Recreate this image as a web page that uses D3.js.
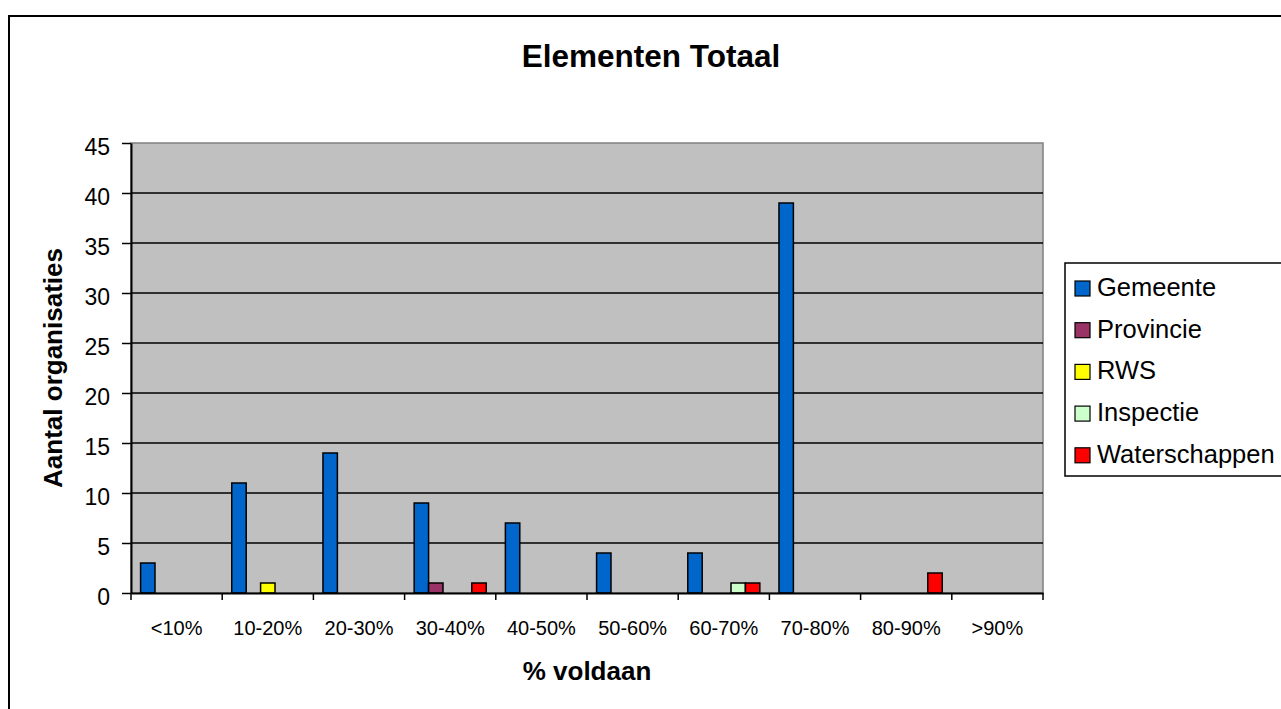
<!DOCTYPE html>
<html><head><meta charset="utf-8">
<script src="https://cdn.jsdelivr.net/npm/d3@7"></script>
<style>
html,body{margin:0;padding:0;background:#fff;}
svg{display:block;font-family:"Liberation Sans",Arial,sans-serif;}
</style></head>
<body>
<script>
const categories = ["<10%","10-20%","20-30%","30-40%","40-50%","50-60%","60-70%","70-80%","80-90%",">90%"];
const seriesNames = ["Gemeente","Provincie","RWS","Inspectie","Waterschappen"];
const seriesColors = ["#0066CC","#993366","#FFFF00","#CCFFCC","#FF0000"];
const gemeente     = [3,11,14,9,7,4,4,39,0,0];
const provincie    = [0,0,0,1,0,0,0,0,0,0];
const rws          = [0,1,0,0,0,0,0,0,0,0];
const inspectie    = [0,0,0,0,0,0,1,0,0,0];
const waterschappen= [0,0,0,1,0,0,1,0,2,0];
const yTicks = [0,5,10,15,20,25,30,35,40,45];
const seriesValues = [gemeente,provincie,rws,inspectie,waterschappen];

const W=1281,H=709;
const svg=d3.select("body").append("svg").attr("width",W).attr("height",H);
svg.append("rect").attr("width",W).attr("height",H).attr("fill","#fff");
// outer frame
svg.append("rect").attr("x",9).attr("y",16).attr("width",W+20).attr("height",H+20)
  .attr("fill","none").attr("stroke","#000").attr("stroke-width",2);

const L=131,R=1043,T=143,B=593;
const x0=d3.scaleBand().domain(categories).range([L,R]).paddingInner(0).paddingOuter(0);
const bw=x0.bandwidth();
const x1=d3.scaleBand().domain(seriesNames).range([bw*0.105,bw*0.895]).padding(0);
const y=d3.scaleLinear().domain([0,45]).range([B,T]);

svg.append("rect").attr("x",L).attr("y",T).attr("width",R-L).attr("height",B-T)
  .attr("fill","#C0C0C0").attr("stroke","#808080").attr("stroke-width",1.5);

// gridlines
svg.append("g").selectAll("line").data(yTicks.filter(d=>d>0&&d<45)).join("line")
  .attr("x1",L).attr("x2",R).attr("y1",d=>y(d)).attr("y2",d=>y(d))
  .attr("stroke","#000").attr("stroke-width",1.3);

// bars
const data=[];
categories.forEach((c,i)=>seriesNames.forEach((s,j)=>{
  if(seriesValues[j][i]>0) data.push({c,s,v:seriesValues[j][i],col:seriesColors[j]});
}));
svg.append("g").selectAll("rect").data(data).join("rect")
  .attr("x",d=>x0(d.c)+x1(d.s)).attr("width",x1.bandwidth())
  .attr("y",d=>y(d.v)).attr("height",d=>B-y(d.v))
  .attr("fill",d=>d.col).attr("stroke","#000").attr("stroke-width",1.5);

// y axis
const ya=svg.append("g").attr("transform",`translate(${L},0)`)
  .call(d3.axisLeft(y).tickValues(yTicks).tickSize(9).tickPadding(12).tickSizeOuter(0));
ya.select(".domain").attr("stroke","#000").attr("stroke-width",2);
ya.selectAll(".tick line").attr("stroke","#000").attr("stroke-width",1.5);
ya.selectAll("text").attr("font-size",23).attr("dy","0.52em").attr("fill","#000").attr("font-family","Liberation Sans, Arial, sans-serif");

// x axis
const xa=svg.append("g").attr("transform",`translate(0,${B})`)
  .call(d3.axisBottom(x0).tickSize(0).tickPadding(27.5));
xa.select(".domain").attr("stroke","#000").attr("stroke-width",2);
xa.selectAll("text").attr("font-size",20).attr("fill","#000").attr("font-family","Liberation Sans, Arial, sans-serif");
// boundary ticks
const bounds=d3.range(categories.length+1).map(i=>L+i*bw);
svg.append("g").selectAll("line").data(bounds).join("line")
  .attr("x1",d=>d).attr("x2",d=>d).attr("y1",B).attr("y2",B+7)
  .attr("stroke","#000").attr("stroke-width",1.5);

// titles
svg.append("text").attr("x",651).attr("y",67).attr("text-anchor","middle")
  .attr("font-size",31.5).attr("font-weight","bold").text("Elementen Totaal");
svg.append("text").attr("x",(L+R)/2).attr("y",680).attr("text-anchor","middle")
  .attr("font-size",26).attr("font-weight","bold").text("% voldaan");
svg.append("text").attr("transform",`translate(62,${(T+B)/2}) rotate(-90)`).attr("text-anchor","middle")
  .attr("font-size",26).attr("font-weight","bold").text("Aantal organisaties");

// legend
svg.append("rect").attr("x",1065).attr("y",263).attr("width",260).attr("height",213)
  .attr("fill","#fff").attr("stroke","#000").attr("stroke-width",1.5);
const lg=svg.append("g").selectAll("g").data(seriesNames).join("g")
  .attr("transform",(d,i)=>`translate(1075,${296+i*41.7})`);
lg.append("rect").attr("x",0).attr("y",-15).attr("width",15).attr("height",15)
  .attr("fill",(d,i)=>seriesColors[i]).attr("stroke","#000").attr("stroke-width",1.2);
lg.append("text").attr("x",22).attr("y",0).attr("font-size",25.5).text(d=>d);
</script>
</body></html>
